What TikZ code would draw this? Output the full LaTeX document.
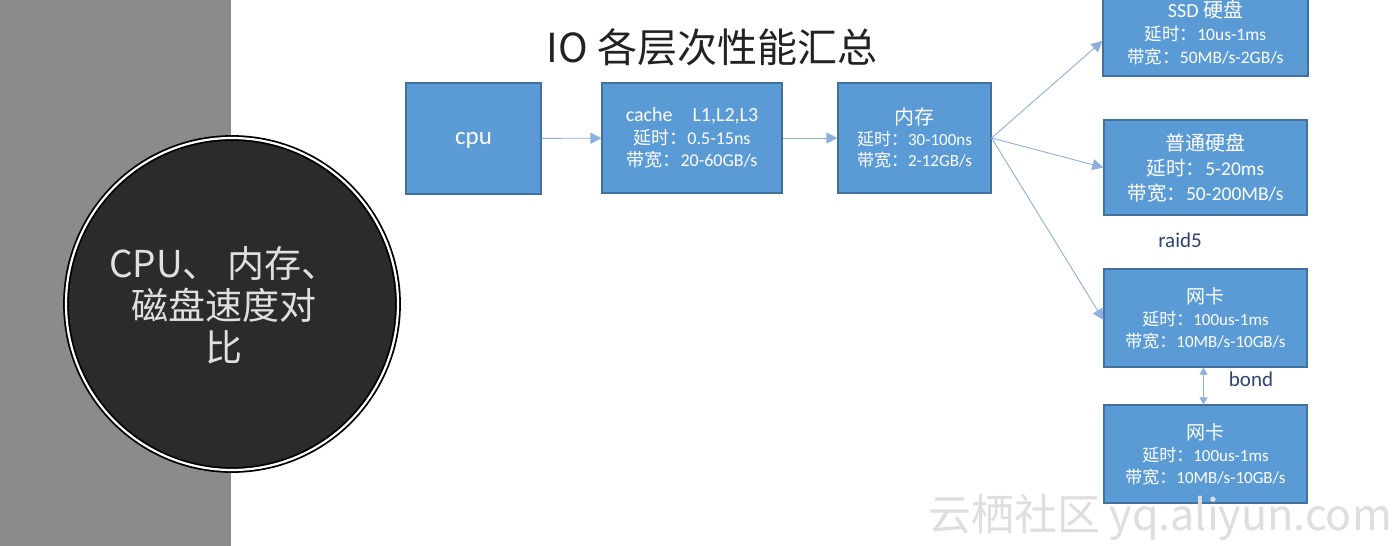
\documentclass[tikz,border=0pt]{standalone}
\usepackage{fontspec}
\setmainfont{Carlito}
\newfontfamily\cjk{Noto Sans CJK SC}
\usetikzlibrary{arrows.meta,calc}
\definecolor{boxfill}{HTML}{5B9BD5}
\definecolor{boxline}{HTML}{41719C}
\definecolor{arrowc}{HTML}{8DB0DC}
\definecolor{band}{HTML}{8B8B8D}
\definecolor{disc}{HTML}{2B2A2D}
\definecolor{labelc}{HTML}{2F4470}
\definecolor{titlec}{HTML}{222222}
\definecolor{wmark}{HTML}{DEDEDE}
\newcommand\zh[1]{{\cjk #1}}
\begin{document}
\begin{tikzpicture}[x=1pt,y=-1pt,
  box/.style={rectangle, draw=boxline, line width=1.2pt, fill=boxfill, text=white, align=center, inner sep=0pt},
  link/.style={draw=arrowc, line width=0.9pt, -{Triangle[length=11pt,width=11pt]}},
  bilink/.style={draw=arrowc, line width=0.9pt, {Triangle[length=7pt,width=8pt]}-{Triangle[length=7pt,width=8pt]}},
  note/.style={text=labelc, font=\fontsize{21}{24}\selectfont}]
\useasboundingbox (0,0) rectangle (1400,546);
\fill[white] (0,0) rectangle (1400,546);
\fill[band] (0,0) rectangle (231,546);

\node[circle, draw=black, double=white, double distance=2.2pt, line width=1.8pt, fill=disc,
  minimum size=332pt, inner sep=0pt] (topic) at (232,304) {};
\node[text=white!88!black, align=center, font=\cjk\fontsize{37}{42}\selectfont] (topictext) at (224,305)
  {CPU、 内存、\\磁盘速度对\\比};

\node[font=\cjk\fontsize{40}{44}\selectfont, text=titlec] (title) at (712,47) {IO 各层次性能汇总};

\node[box, minimum width=135pt, minimum height=111pt, text depth=0pt, font=\fontsize{25}{28}\selectfont] (cpu) at (473.5,138.5) {cpu};
\node[box, font=\fontsize{18}{22.5}\selectfont, minimum width=180pt, minimum height=110pt] (cache) at (692,138)
  {{\fontsize{20}{22.5}\selectfont cache\quad L1,L2,L3}\\\zh{延时：}0.5-15ns\\\zh{带宽：}20-60GB/s};
\node[box, font=\fontsize{17}{21}\selectfont, minimum width=153pt, minimum height=110pt] (mem) at (914.5,138)
  {{\cjk\fontsize{20}{24}\selectfont 内存}\\\zh{延时：}30-100ns\\\zh{带宽：}2-12GB/s};
\node[box, font=\fontsize{17.5}{23}\selectfont, minimum width=205pt, minimum height=86pt] (ssd) at (1205.5,33)
  {{\fontsize{20}{24}\selectfont SSD \zh{硬盘}}\\\zh{延时：}10us-1ms\\\zh{带宽：}50MB/s-2GB/s};
\node[box, font=\fontsize{19.5}{25}\selectfont, minimum width=203pt, minimum height=95pt] (hdd) at (1205.5,167.5)
  {{\cjk\fontsize{20}{26}\selectfont 普通硬盘}\\\zh{延时：}5-20ms\\\zh{带宽：}50-200MB/s};
\node[box, font=\fontsize{17}{22}\selectfont, minimum width=203pt, minimum height=98pt] (nicA) at (1205.5,318)
  {{\cjk\fontsize{19}{26}\selectfont 网卡}\\\zh{延时：}100us-1ms\\\zh{带宽：}10MB/s-10GB/s};
\node[box, font=\fontsize{17}{22}\selectfont, minimum width=203pt, minimum height=98pt] (nicB) at (1205.5,454)
  {{\cjk\fontsize{19}{26}\selectfont 网卡}\\\zh{延时：}100us-1ms\\\zh{带宽：}10MB/s-10GB/s};

\node[note] (raid) at (1180,240) {raid5};
\node[note] (bond) at (1251,379) {bond};

\draw[link] (cpu) -- (cache);
\draw[link] (cache) -- (mem);
\coordinate (ssdin) at ($(ssd.west)+(0,8)$);
\coordinate (nicin) at ($(nicA.west)+(0,2)$);
\draw[link] (mem.east) -- (ssdin);
\draw[link] (mem.east) -- (hdd.west);
\draw[link] (mem.east) -- (nicin);
\draw[bilink] ([xshift=-2pt]nicA.south) -- ([xshift=-2pt]nicB.north);

\node[font=\cjk\fontsize{43}{46}\selectfont, text=wmark] (wm) at (1160,517) {云栖社区 yq.aliyun.com};
\end{tikzpicture}
\end{document}
